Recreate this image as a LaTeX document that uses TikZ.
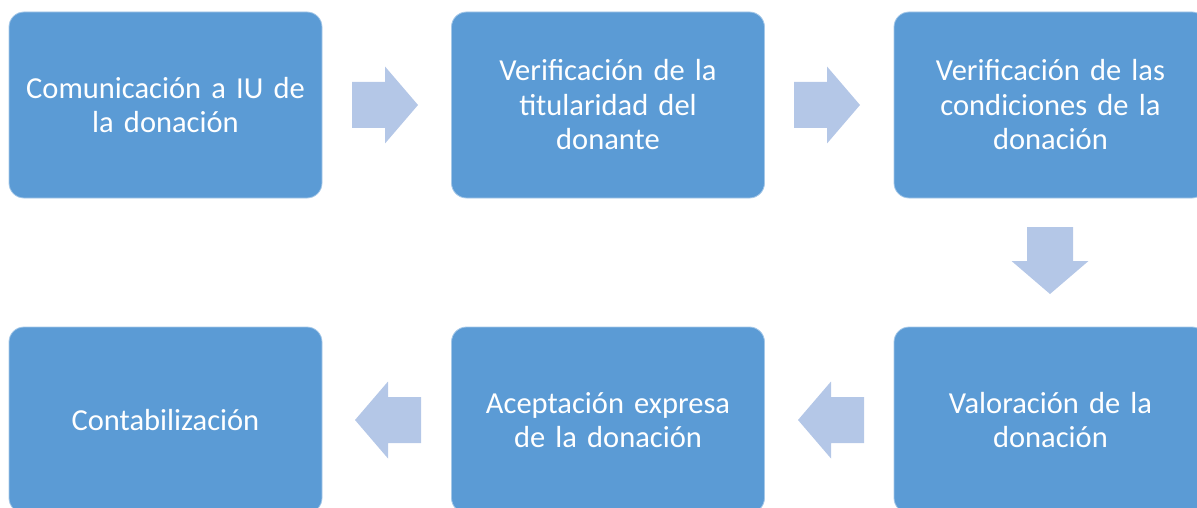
\documentclass[tikz,border=0pt]{standalone}
\usepackage{fontspec}
\setmainfont{Carlito}
\definecolor{boxblue}{HTML}{5B9BD5}
\definecolor{arrowblue}{HTML}{B4C7E7}
\tikzset{
  stepbox/.style={rectangle, rounded corners=15pt, fill=boxblue, draw=white!45!boxblue, line width=0.8pt,
    minimum width=313pt, minimum height=186pt, text width=300pt, align=center, text=white,
    font=\fontsize{30.5}{34.5}\selectfont, inner sep=0pt},
  pics/rarrow/.style={code={\fill[arrowblue] (-33,-23) -- (0,-23) -- (0,-38.5) -- (33,0) -- (0,38.5) -- (0,23) -- (-33,23) -- cycle;}},
  pics/larrow/.style={code={\fill[arrowblue] (33,-23) -- (0,-23) -- (0,-38.5) -- (-33,0) -- (0,38.5) -- (0,23) -- (33,23) -- cycle;}},
  pics/darrow/.style={code={\fill[arrowblue] (-23,34) -- (-23,0) -- (-38.5,0) -- (0,-33) -- (38.5,0) -- (23,0) -- (23,34) -- cycle;}},
}
\begin{document}
\begin{tikzpicture}[x=1pt,y=1pt]
\useasboundingbox (0,0) rectangle (1197,-508);
\node[stepbox] (b1) at (165.5,-105) {Comunicación a IU de\\la donación};
\node[stepbox] (b2) at (608,-105) {Verificación de la\\titularidad del\\donante};
\node[stepbox] (b3) at (1050.5,-105) {Verificación de las\\condiciones de la\\donación};
\node[stepbox] (b6) at (1050.5,-420) {Valoración de la\\donación};
\node[stepbox] (b5) at (608,-420) {Aceptación expresa\\de la donación};
\node[stepbox] (b4) at (165.5,-420) {Contabilización};
\pic at (385,-105) {rarrow};
\pic at (827,-105) {rarrow};
\pic at (1050,-261) {darrow};
\pic at (831,-420) {larrow};
\pic at (388,-420) {larrow};
\end{tikzpicture}
\end{document}
